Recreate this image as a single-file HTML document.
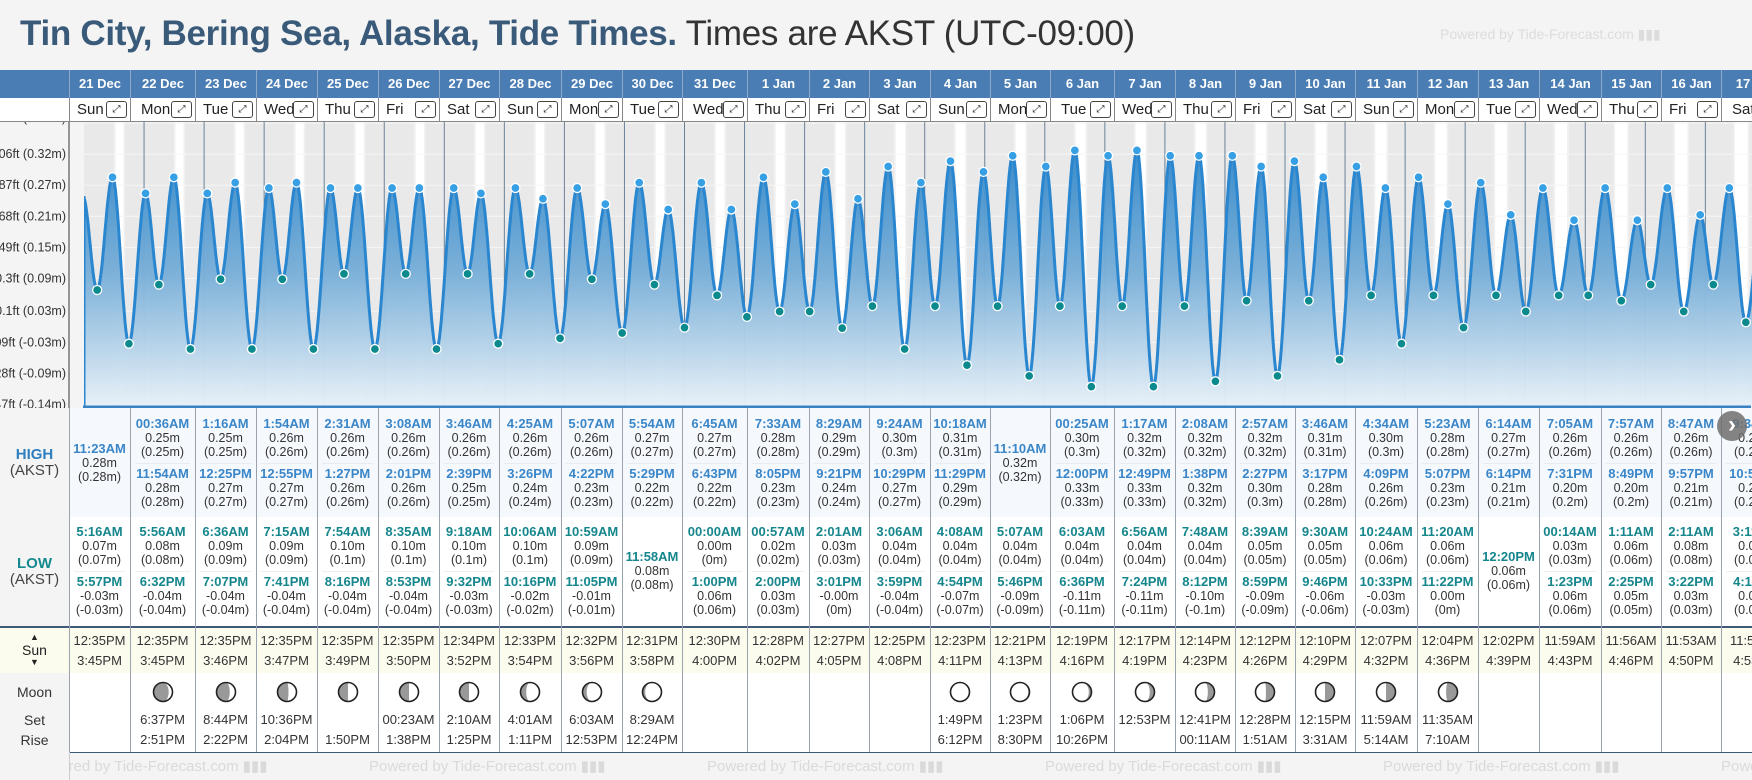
<!DOCTYPE html>
<html><head><meta charset="utf-8"><style>
body{margin:0;width:1752px;height:780px;overflow:hidden;background:#f4f4f4;font-family:"Liberation Sans",sans-serif;position:relative}
.abs{position:absolute}
#tbl{position:absolute;left:0;top:0;width:1752px;height:780px;overflow:hidden}
</style></head><body>
<div class="abs" style="left:20px;top:14px;font-size:35px;line-height:40px;white-space:nowrap;letter-spacing:-0.3px"><b style="color:#3a5a7a">Tin City, Bering Sea, Alaska, Tide Times.</b> <span style="color:#333">Times are AKST (UTC-09:00)</span></div>
<div class="abs" style="left:1440px;top:26px;font-size:14px;color:#dcdcdc;white-space:nowrap">Powered by Tide-Forecast.com ▮▮▮</div>
<svg id="chart" class="abs" style="left:0;top:0" width="1752" height="780"></svg>
<div id="tbl"></div>
<script>
const days=["21 Dec","22 Dec","23 Dec","24 Dec","25 Dec","26 Dec","27 Dec","28 Dec","29 Dec","30 Dec","31 Dec","1 Jan","2 Jan","3 Jan","4 Jan","5 Jan","6 Jan","7 Jan","8 Jan","9 Jan","10 Jan","11 Jan","12 Jan","13 Jan","14 Jan","15 Jan","16 Jan","17 Jan"];
const weekdays=["Sun","Mon","Tue","Wed","Thu","Fri","Sat","Sun","Mon","Tue","Wed","Thu","Fri","Sat","Sun","Mon","Tue","Wed","Thu","Fri","Sat","Sun","Mon","Tue","Wed","Thu","Fri","Sat"];
const highs=[[["11:23AM",0.28]],[["00:36AM",0.25],["11:54AM",0.28]],[["1:16AM",0.25],["12:25PM",0.27]],[["1:54AM",0.26],["12:55PM",0.27]],[["2:31AM",0.26],["1:27PM",0.26]],[["3:08AM",0.26],["2:01PM",0.26]],[["3:46AM",0.26],["2:39PM",0.25]],[["4:25AM",0.26],["3:26PM",0.24]],[["5:07AM",0.26],["4:22PM",0.23]],[["5:54AM",0.27],["5:29PM",0.22]],[["6:45AM",0.27],["6:43PM",0.22]],[["7:33AM",0.28],["8:05PM",0.23]],[["8:29AM",0.29],["9:21PM",0.24]],[["9:24AM",0.30],["10:29PM",0.27]],[["10:18AM",0.31],["11:29PM",0.29]],[["11:10AM",0.32]],[["00:25AM",0.30],["12:00PM",0.33]],[["1:17AM",0.32],["12:49PM",0.33]],[["2:08AM",0.32],["1:38PM",0.32]],[["2:57AM",0.32],["2:27PM",0.30]],[["3:46AM",0.31],["3:17PM",0.28]],[["4:34AM",0.30],["4:09PM",0.26]],[["5:23AM",0.28],["5:07PM",0.23]],[["6:14AM",0.27],["6:14PM",0.21]],[["7:05AM",0.26],["7:31PM",0.20]],[["7:57AM",0.26],["8:49PM",0.20]],[["8:47AM",0.26],["9:57PM",0.21]],[["9:34AM",0.26],["10:53PM",0.22]]];
const lows=[[["5:16AM",0.07],["5:57PM",-0.03]],[["5:56AM",0.08],["6:32PM",-0.04]],[["6:36AM",0.09],["7:07PM",-0.04]],[["7:15AM",0.09],["7:41PM",-0.04]],[["7:54AM",0.10],["8:16PM",-0.04]],[["8:35AM",0.10],["8:53PM",-0.04]],[["9:18AM",0.10],["9:32PM",-0.03]],[["10:06AM",0.10],["10:16PM",-0.02]],[["10:59AM",0.09],["11:05PM",-0.01]],[["11:58AM",0.08]],[["00:00AM",0.00],["1:00PM",0.06]],[["00:57AM",0.02],["2:00PM",0.03]],[["2:01AM",0.03],["3:01PM",-0.001]],[["3:06AM",0.04],["3:59PM",-0.04]],[["4:08AM",0.04],["4:54PM",-0.07]],[["5:07AM",0.04],["5:46PM",-0.09]],[["6:03AM",0.04],["6:36PM",-0.11]],[["6:56AM",0.04],["7:24PM",-0.11]],[["7:48AM",0.04],["8:12PM",-0.10]],[["8:39AM",0.05],["8:59PM",-0.09]],[["9:30AM",0.05],["9:46PM",-0.06]],[["10:24AM",0.06],["10:33PM",-0.03]],[["11:20AM",0.06],["11:22PM",0.00]],[["12:20PM",0.06]],[["00:14AM",0.03],["1:23PM",0.06]],[["1:11AM",0.06],["2:25PM",0.05]],[["2:11AM",0.08],["3:22PM",0.03]],[["3:11AM",0.08],["4:11PM",0.01]]];
const startHeight=0.245;
const sunRise=["12:35PM","12:35PM","12:35PM","12:35PM","12:35PM","12:35PM","12:34PM","12:33PM","12:32PM","12:31PM","12:30PM","12:28PM","12:27PM","12:25PM","12:23PM","12:21PM","12:19PM","12:17PM","12:14PM","12:12PM","12:10PM","12:07PM","12:04PM","12:02PM","11:59AM","11:56AM","11:53AM","11:50AM"];
const sunSet=["3:45PM","3:45PM","3:46PM","3:47PM","3:49PM","3:50PM","3:52PM","3:54PM","3:56PM","3:58PM","4:00PM","4:02PM","4:05PM","4:08PM","4:11PM","4:13PM","4:16PM","4:19PM","4:23PM","4:26PM","4:29PM","4:32PM","4:36PM","4:39PM","4:43PM","4:46PM","4:50PM","4:53PM"];
const moonSet=["","6:37PM","8:44PM","10:36PM","","00:23AM","2:10AM","4:01AM","6:03AM","8:29AM","","","","","1:49PM","1:23PM","1:06PM","12:53PM","12:41PM","12:28PM","12:15PM","11:59AM","11:35AM","","","","",""];
const moonRise=["","2:51PM","2:22PM","2:04PM","1:50PM","1:38PM","1:25PM","1:11PM","12:53PM","12:24PM","","","","","6:12PM","8:30PM","10:26PM","","00:11AM","1:51AM","3:31AM","5:14AM","7:10AM","","","","",""];
const moonDark=[null,0.8,0.7,0.58,0.5,0.5,0.5,0.3,0.22,0.14,null,null,null,null,0,0.06,0.14,0.25,0.35,0.45,0.5,0.5,0.6,null,null,null,null,null];
const moonSide=["","L","L","L","L","L","L","L","L","L","","","","","R","R","R","R","R","R","R","R","R","","","","",""];
const tickFt=[-0.47,-0.28,-0.09,0.1,0.3,0.49,0.68,0.87,1.06,1.25];
const tickM=["-0.14","-0.09","-0.03","0.03","0.09","0.15","0.21","0.27","0.32","0.38"];

const colX=[69,130,195,256,317,378,439,499,561,622,682,747,809,869,930,990,1050,1114,1175,1235,1295,1355,1417,1478,1539,1601,1661,1721,1790];
const X0=84,PXD=60.05,CT=122,CB=407;
const xT=t=>X0+PXD*t;
const yM=m=>327.6-537*m;
function parseT(s){const pm=s.endsWith("PM");const p=s.slice(0,-2).split(":");let h=parseInt(p[0],10)%12;if(pm)h+=12;return (h+parseInt(p[1],10)/60)/24;}
const NS="http://www.w3.org/2000/svg";
const svg=document.getElementById("chart");
function mk(tag,attrs,parent){const e=document.createElementNS(NS,tag);for(const k in attrs)e.setAttribute(k,attrs[k]);(parent||svg).appendChild(e);return e;}

const defs=mk("defs",{});
const lg=mk("linearGradient",{id:"fillg",x1:0,y1:140,x2:0,y2:407,gradientUnits:"userSpaceOnUse"},defs);
mk("stop",{offset:"0","stop-color":"#2f86c9"},lg);
mk("stop",{offset:"0.5","stop-color":"#79afd8"},lg);
mk("stop",{offset:"1","stop-color":"#e8f1f8"},lg);
const cp=mk("clipPath",{id:"cclip"},defs);mk("rect",{x:X0,y:CT,width:1752-X0,height:CB-CT},cp);
const cp2=mk("clipPath",{id:"lclip"},defs);mk("rect",{x:0,y:CT,width:69,height:CB-CT+2},cp2);

let r=mk("rect",{x:0,y:CT,width:X0,height:CB-CT,fill:"#f4f4f4"});

const lgp=mk("g",{"clip-path":"url(#lclip)"});
for(let i=0;i<tickFt.length;i++){
  const y=yM(tickFt[i]/3.28084);
  const tx=mk("text",{x:66,y:(i===tickFt.length-1?y-1:y+4),"text-anchor":"end","font-size":"12.5",fill:"#333","font-family":"Liberation Sans, sans-serif"},lgp);
  tx.textContent=tickFt[i]+"ft ("+tickM[i]+"m)";
  
}
const g=mk("g",{"clip-path":"url(#cclip)"});
mk("rect",{x:X0,y:CT,width:1752-X0,height:CB-CT,fill:"#e9e9e9"},g);
for(let d=0;d<days.length;d++){
  const a=d+parseT(sunRise[d]),b=d+parseT(sunSet[d]);
  mk("rect",{x:xT(a-0.03),y:CT,width:xT(b+0.03)-xT(a-0.03),height:CB-CT,fill:"#f1f1f1"},g);
  const dr=mk("rect",{x:xT(a),y:CT,width:xT(b)-xT(a),height:CB-CT,fill:"#ffffff"},g);
  
}
for(let i=0;i<tickFt.length;i++){
  const y=yM(tickFt[i]/3.28084);
  const gl=mk("line",{x1:X0,x2:1752,y1:y,y2:y,stroke:"#f6f6f6","stroke-width":1},g);
  
}
for(let d=1;d<=28;d++){
  const ml=mk("line",{x1:xT(d),x2:xT(d),y1:CT,y2:CB,stroke:"#6a8298","stroke-width":1},g);
  
}
const ext=[{t:-0.02,v:startHeight,type:"H"}];
for(let d=0;d<days.length;d++){
  highs[d].forEach(e=>ext.push({t:d+parseT(e[0]),v:e[1],type:"H"}));
  lows[d].forEach(e=>ext.push({t:d+parseT(e[0]),v:e[1],type:"L"}));
}
ext.sort((a,b)=>a.t-b.t);
let pts=[];
for(let i=0;i<ext.length-1;i++){
  const a=ext[i],b=ext[i+1];const n=Math.max(2,Math.ceil((xT(b.t)-xT(a.t))));
  for(let k=0;k<n;k++){const f=k/n;const v=a.v+(b.v-a.v)*(1-Math.cos(Math.PI*f))/2;pts.push([xT(a.t+(b.t-a.t)*f),yM(v)]);}
}
const last=ext[ext.length-1];pts.push([xT(last.t),yM(last.v)]);
pts=pts.filter(p=>p[0]>=X0-1);
pts.unshift([X0,yM(startHeight)]);
const line=pts.map((p,i)=>(i?"L":"M")+p[0].toFixed(1)+" "+p[1].toFixed(1)).join(" ");
const area=mk("path",{d:line+" L"+pts[pts.length-1][0].toFixed(1)+" "+CB+" L"+X0+" "+CB+" Z",fill:"url(#fillg)","fill-opacity":"0.97"},g);

const tl=mk("path",{d:line,fill:"none",stroke:"#2a86cf","stroke-width":3,"stroke-linejoin":"round"},g);

mk("line",{x1:X0,x2:X0,y1:yM(startHeight),y2:CB,stroke:"#2a86cf","stroke-width":3},g);
ext.forEach(e=>{if(e.t<0)return;
  const c=mk("circle",{cx:xT(e.t),cy:yM(e.v),r:4.5,fill:e.type==="H"?"#37a0e4":"#0b8a8e",stroke:"#fff","stroke-width":1.3},g);
  
});
mk("line",{x1:69,x2:69,y1:CT,y2:CB+1,stroke:"#777","stroke-width":1.5});
const bl=mk("rect",{x:X0-1,y:CB-1.5,width:1752-X0,height:2.5,fill:"#3a82c4"});


const tbl=document.getElementById("tbl");
function div(css,txt,parent){const e=document.createElement("div");e.style.cssText="position:absolute;"+css;if(txt!==undefined)e.textContent=txt;(parent||tbl).appendChild(e);return e;}
let e;
e=div("left:0;top:70px;width:1752px;height:28px;background:#4a7db3");

e=div("left:0;top:98px;width:69px;height:24px;background:#fff;border-bottom:1px solid #888;box-sizing:border-box");
e=div("left:0;top:408px;width:69px;height:344px;background:#f4f4f4;border-right:1px solid #999");
e=div("top:408px;width:1683px;height:109px;background:#f5f9fd;left:69px");

e=div("left:69px;top:517px;width:1683px;height:109px;background:#fff");

e=div("left:0;top:626px;width:1752px;height:2px;background:#3d5a78");
e=div("left:69px;top:628px;width:1683px;height:45px;background:#fbfbee");

e=div("left:0;top:628px;width:69px;height:45px;background:#fbfbee;border-right:1px solid #999");
e=div("left:69px;top:673px;width:1683px;height:79px;background:#fff;border-bottom:1px solid #3d5a78");

e=div("left:0;top:446px;width:69px;text-align:center;font-size:15px;line-height:17px;color:#2f7fc0;font-weight:bold","HIGH");

div("left:0;top:462px;width:69px;text-align:center;font-size:15px;line-height:17px;color:#444","(AKST)");
e=div("left:0;top:555px;width:69px;text-align:center;font-size:15px;line-height:17px;color:#158a8e;font-weight:bold","LOW");

div("left:0;top:571px;width:69px;text-align:center;font-size:15px;line-height:17px;color:#444","(AKST)");
div("left:0;top:632px;width:69px;text-align:center;font-size:9px;line-height:10px;color:#222","▲");
e=div("left:0;top:642px;width:69px;text-align:center;font-size:14px;line-height:16px;color:#222","Sun");

div("left:0;top:657px;width:69px;text-align:center;font-size:9px;line-height:10px;color:#222","▼");
e=div("left:0;top:684px;width:69px;text-align:center;font-size:14px;line-height:16px;color:#333","Moon");

div("left:0;top:712px;width:69px;text-align:center;font-size:14px;line-height:16px;color:#333","Set");
div("left:0;top:732px;width:69px;text-align:center;font-size:14px;line-height:16px;color:#333","Rise");

function moonSvg(f,side){
  const R=9.5,c=11;let dpath="";
  if(f>0){const rx=Math.abs(1-2*f)*R;const s=side==="L"?0:1;
    const sweep2=(f<=0.5)?(side==="L"?1:0):(side==="L"?0:1);
    dpath=`M${c} ${c-R} A${R} ${R} 0 0 ${s===0?0:1} ${c} ${c+R} A${rx} ${R} 0 0 ${sweep2} ${c} ${c-R} Z`;}
  return `<svg width="22" height="22"><circle cx="11" cy="11" r="9.5" fill="#fff"/><path d="${dpath}" fill="#999"/><circle cx="11" cy="11" r="9.5" fill="none" stroke="#222" stroke-width="1.6"/></svg>`;
}
function entry(x,w,cy,time,val,col){
  const a=div(`left:${x}px;top:${cy-7}px;width:${w}px;text-align:center;font-size:13px;line-height:14px;font-weight:bold;color:${col};white-space:nowrap`,time);
  
  const b=div(`left:${x}px;top:${cy+7}px;width:${w}px;text-align:center;font-size:12.5px;line-height:14px;color:#333;white-space:nowrap`,val.toFixed(2)+"m");
  
  div(`left:${x}px;top:${cy+21}px;width:${w}px;text-align:center;font-size:12.5px;line-height:14px;color:#333;white-space:nowrap`,"("+String(parseFloat(val.toFixed(2)))+"m)");
}
for(let d=0;d<days.length;d++){
  const x=colX[d],w=colX[d+1]-colX[d];
  e=div(`left:${x}px;top:70px;width:${w}px;height:28px;border-left:1px solid #8eaacb;box-sizing:border-box;text-align:center;color:#fff;font-weight:bold;font-size:13px;line-height:28px;white-space:nowrap`,days[d]);
  
  const dc=div(`left:${x}px;top:98px;width:${w}px;height:24px;background:#fff;border-left:1px solid #888;border-bottom:1px solid #888;box-sizing:border-box`);
  
  div(`left:${w>62?10:7}px;top:2px;font-size:15px;line-height:20px;color:#222`,weekdays[d],dc);
  const ib=div(`left:${w-25}px;top:3px;width:19px;height:15px;border:1px solid #444;border-radius:3px;font-size:10px;line-height:15px;text-align:center;color:#222;font-family:'DejaVu Sans',sans-serif`,"⤢",dc);
  
  div(`left:${x}px;top:408px;width:1px;height:344px;background:#9aa3ad`);
  const H=highs[d];
  if(H.length===1)entry(x,w,449,H[0][0],H[0][1],"#3a86c8");
  else{entry(x,w,424,H[0][0],H[0][1],"#3a86c8");div(`left:${x+5}px;top:463px;width:${w-10}px;height:1px;background:#e6ecf1`);entry(x,w,474,H[1][0],H[1][1],"#3a86c8");}
  const L=lows[d];
  if(L.length===1)entry(x,w,557,L[0][0],L[0][1],"#15868c");
  else{entry(x,w,532,L[0][0],L[0][1],"#15868c");div(`left:${x+5}px;top:571px;width:${w-10}px;height:1px;background:#eeeeee`);entry(x,w,582,L[1][0],L[1][1],"#15868c");}
  e=div(`left:${x}px;top:633px;width:${w}px;text-align:center;font-size:13px;line-height:16px;color:#333;white-space:nowrap`,sunRise[d]);
  
  e=div(`left:${x}px;top:653px;width:${w}px;text-align:center;font-size:13px;line-height:16px;color:#333;white-space:nowrap`,sunSet[d]);
  
  if(moonDark[d]!==null){
    const m=div(`left:${x+w/2-11}px;top:681px;width:22px;height:22px`);
    m.innerHTML=moonSvg(moonDark[d],moonSide[d]);
    
  }
  e=div(`left:${x}px;top:712px;width:${w}px;text-align:center;font-size:13px;line-height:16px;color:#333;white-space:nowrap`,moonSet[d]);
  
  e=div(`left:${x}px;top:732px;width:${w}px;text-align:center;font-size:13px;line-height:16px;color:#333;white-space:nowrap`,moonRise[d]);
  
}
for(let k=-1;k<5;k++){
  e=div(`left:${369+k*338}px;top:758px;font-size:15px;line-height:18px;color:#dadada;white-space:nowrap`,"Powered by Tide-Forecast.com ▮▮▮");
  
}
div("left:0;top:752px;width:69px;height:28px;background:#f4f4f4;border-right:1px solid #ccc");
e=div("left:1717px;top:411px;width:30px;height:30px;border-radius:50%;background:rgba(110,110,110,0.85);color:#fff;font-size:24px;line-height:28px;text-align:center;font-weight:bold","›");

</script>
</body></html>
